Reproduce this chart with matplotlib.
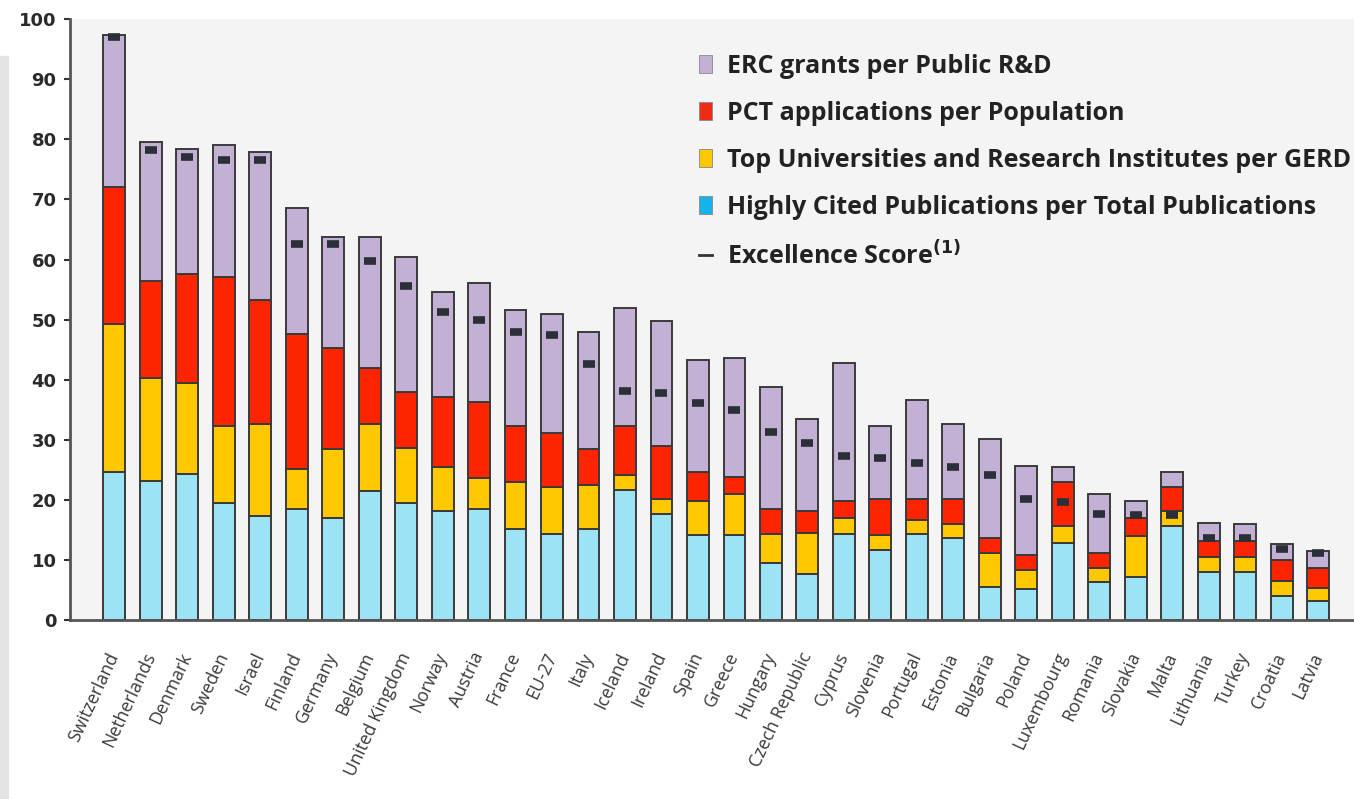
import numpy as np
import matplotlib.pyplot as plt
from matplotlib.patches import Patch, Rectangle
from matplotlib.lines import Line2D

# Data
countries = ["Switzerland", "Netherlands", "Denmark", "Sweden", "Israel", "Finland",
             "Germany", "Belgium", "United Kingdom", "Norway", "Austria", "France",
             "EU-27", "Italy", "Iceland", "Ireland", "Spain", "Greece", "Hungary",
             "Czech Republic", "Cyprus", "Slovenia", "Portugal", "Estonia", "Bulgaria",
             "Poland", "Luxembourg", "Romania", "Slovakia", "Malta", "Lithuania",
             "Turkey", "Croatia", "Latvia"]

# segment heights (stacked)
highly_cited = [24.7, 23.1, 24.3, 19.4, 17.3, 18.4, 17.0, 21.4, 19.4, 18.2, 18.4, 15.1,
                14.4, 15.1, 21.7, 17.7, 14.1, 14.1, 9.5, 7.7, 14.4, 11.6, 14.4, 13.6,
                5.5, 5.1, 12.8, 6.4, 7.1, 15.6, 8.0, 8.0, 4.0, 3.1]
top_univ = [24.5, 17.2, 15.2, 12.9, 15.4, 6.8, 11.4, 11.3, 9.3, 7.2, 5.3, 7.8,
            7.7, 7.4, 2.4, 2.4, 5.7, 6.8, 4.9, 6.8, 2.5, 2.5, 2.3, 2.4,
            5.6, 3.3, 2.8, 2.3, 6.9, 2.5, 2.5, 2.5, 2.5, 2.2]
pct = [22.9, 16.2, 18.1, 24.8, 20.5, 22.4, 16.8, 9.3, 9.3, 11.8, 12.6, 9.4,
       9.0, 6.0, 8.2, 8.8, 4.9, 2.9, 4.1, 3.6, 2.9, 6.0, 3.5, 4.2,
       2.6, 2.5, 7.3, 2.4, 2.9, 4.0, 2.6, 2.6, 3.5, 3.4]
erc = [25.2, 23.0, 20.8, 22.0, 24.7, 21.0, 18.6, 21.8, 22.5, 17.4, 19.8, 19.3,
       19.8, 19.5, 19.7, 20.8, 18.5, 19.8, 20.2, 15.3, 22.9, 12.2, 16.5, 12.5,
       16.5, 14.8, 2.5, 9.8, 2.9, 2.6, 3.1, 2.8, 2.7, 2.8]
excellence = [97.1, 78.2, 77.0, 76.5, 76.5, 62.6, 62.6, 59.7, 55.6, 51.2, 50.0, 47.9,
              47.5, 42.6, 38.2, 37.8, 36.2, 34.9, 31.3, 29.4, 27.3, 26.9, 26.2, 25.4,
              24.2, 20.2, 19.6, 17.7, 17.4, 17.5, 13.7, 13.7, 11.9, 11.2]

series = [highly_cited, top_univ, pct, erc]
bar_colors = ['#9de3f6', '#ffc800', '#ff2400', '#c3b1d5']
legend_colors = ['#c3b1d5', '#ee2c14', '#ffc800', '#16b2ea']
legend_labels = ["ERC grants per Public R&D", "PCT applications per Population",
                 "Top Universities and Research Institutes per GERD",
                 "Highly Cited Publications per Total Publications"]

fig = plt.figure(figsize=(13.54, 7.99), dpi=100)
fig.patches.append(Rectangle((0, 0), 0.006, 0.93, transform=fig.transFigure,
                             color='#e4e4e4', zorder=0))
ax = fig.add_axes([0.052, 0.224, 0.948, 0.752])
ax.set_facecolor('#f4f4f4')

x = np.arange(len(countries))
bottom = np.zeros(len(countries))
for vals, c in zip(series, bar_colors):
    ax.bar(x, vals, width=0.6, bottom=bottom, color=c, edgecolor='#3a3a3a',
           linewidth=1.4, zorder=2)
    bottom += np.array(vals)

# excellence score markers
ax.plot(x, excellence, linestyle='none', marker='_', markersize=8.5,
        markeredgewidth=5.5, color='#2b2f38', zorder=3)

ax.set_xlim(-1.2, len(countries) - 0.02)
ax.set_ylim(0, 100)
ax.set_yticks(range(0, 101, 10))
ax.tick_params(axis='y', length=4, width=1.5, colors='#333333', labelsize=13,
               labelcolor='#2a2a2a', pad=6)
for lab in ax.get_yticklabels():
    lab.set_fontweight('bold')

ax.set_xticks(x)
ax.set_xticklabels(countries, rotation=65, ha='right', va='center',
                   rotation_mode='anchor', fontsize=12.8, color='#3a3a3a',
                   family='Open Sans')
ax.tick_params(axis='x', length=0, pad=24)

for side in ['top', 'right']:
    ax.spines[side].set_visible(False)
for side in ['left', 'bottom']:
    ax.spines[side].set_color('#555555')
    ax.spines[side].set_linewidth(2)

handles = [Patch(facecolor=c, edgecolor='#888888', linewidth=0.6) for c in legend_colors]
handles.append(Line2D([0], [0], color='#333333', linewidth=2))
labels = legend_labels + [r"Excellence Score$^{\mathbf{(1)}}$"]
leg = ax.legend(handles, labels, loc='upper right', bbox_to_anchor=(1.015, 0.98),
                frameon=False, handlelength=0.5, handleheight=0.7, handletextpad=0.6,
                labelspacing=0.88, prop={'family': 'Open Sans', 'weight': 'bold', 'size': 18})
for t in leg.get_texts():
    t.set_color('#222222')

fig.savefig("out.png", dpi=100)
